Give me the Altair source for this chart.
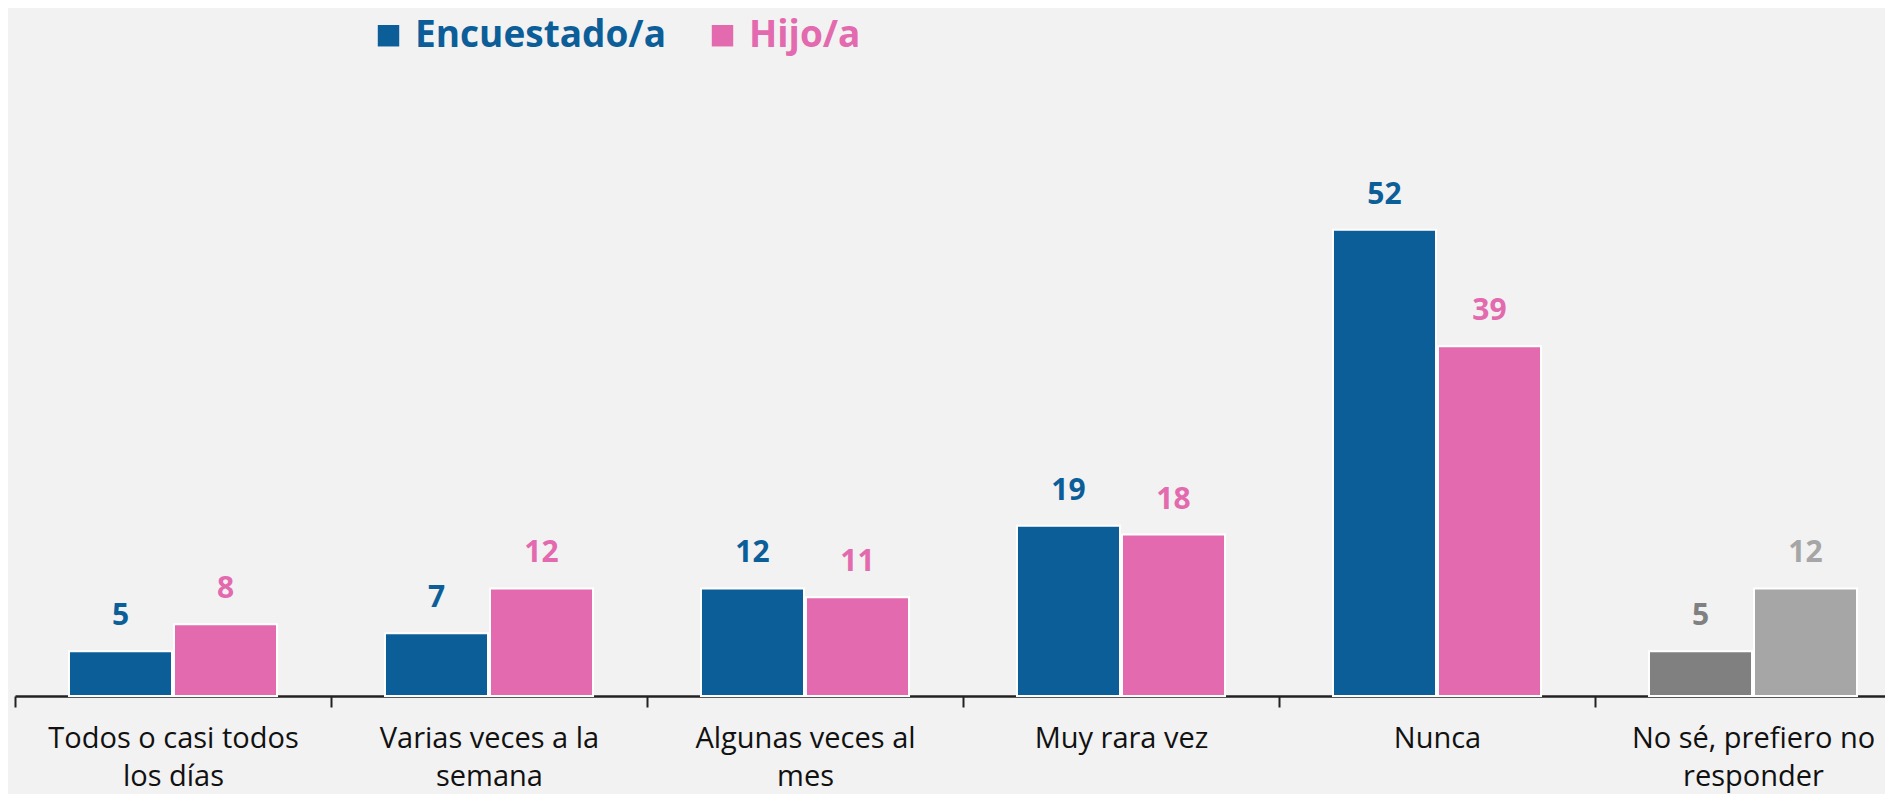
import altair as alt
import pandas as pd

categories = [
    "Todos o casi todos los días",
    "Varias veces a la semana",
    "Algunas veces al mes",
    "Muy rara vez",
    "Nunca",
    "No sé, prefiero no responder",
]
label_lines = [
    ["Todos o casi todos", "los días"],
    ["Varias veces a la", "semana"],
    ["Algunas veces al", "mes"],
    ["Muy rara vez"],
    ["Nunca"],
    ["No sé, prefiero no", "responder"],
]
series = ["Encuestado/a", "Hijo/a"]
encuestado = [5, 7, 12, 19, 52, 5]
hijo = [8, 12, 11, 18, 39, 12]

BLUE = "#0c5e99"
PINK = "#e36aae"
GREY_D = "#808080"
GREY_L = "#a6a6a6"
NS = "No sé, prefiero no responder"

rows = []
for c, e, h in zip(categories, encuestado, hijo):
    for s, v in ((series[0], e), (series[1], h)):
        key = s + " NS" if c == NS else s
        rows.append({"cat": c, "serie": s, "valor": v, "key": key})
df = pd.DataFrame(rows)

key_domain = ["Encuestado/a", "Hijo/a", "Encuestado/a NS", "Hijo/a NS"]
key_range = [BLUE, PINK, GREY_D, GREY_L]

def arr(lines):
    return "[" + ",".join("'" + l + "'" for l in lines) + "]"

label_expr = ""
for c, ls in zip(categories, label_lines):
    label_expr += f"datum.label == '{c}' ? {arr(ls)} : "
label_expr += "datum.label"

x = alt.X(
    "cat:N",
    sort=categories,
    scale=alt.Scale(range=[0, 1896], paddingInner=0, paddingOuter=0),
    axis=alt.Axis(
        title=None,
        labelAngle=0,
        labelExpr=label_expr,
        labelFont="Open Sans",
        labelFontSize=29,
        labelColor="#111111",
        labelBaseline="alphabetic",
        labelPadding=40,
        labelLineHeight=38,
        labelLimit=400,
        domainColor="#222222",
        domainWidth=2.5,
        tickColor="#222222",
        tickWidth=2,
        tickSize=11,
        tickBand="extent",
        grid=False,
    ),
)
xo = alt.XOffset(
    "serie:N",
    sort=series,
    scale=alt.Scale(paddingInner=0.019, paddingOuter=0.514),
)
y = alt.Y("valor:Q", scale=alt.Scale(domain=[0, 60]), axis=None)

bars = alt.Chart(df).mark_bar(stroke="white", strokeWidth=2).encode(
    x=x,
    xOffset=xo,
    y=y,
    color=alt.Color(
        "key:N",
        scale=alt.Scale(domain=key_domain, range=key_range),
        legend=alt.Legend(
            values=series,
            title=None,
            orient="none",
            legendX=355,
            legendY=-141,
            direction="horizontal",
            symbolType="square",
            symbolSize=460,
            symbolStrokeWidth=0,
            symbolOpacity=1,
            labelFont="Open Sans",
            labelFontSize=37,
            labelFontWeight="bold",
            labelOffset=8,
            columnPadding=38,
            labelColor={"expr": f"datum.value == 'Hijo/a' ? '{PINK}' : '{BLUE}'"},
            labelLimit=600,
        ),
    ),
)

labels = alt.Chart(df).mark_text(
    font="Open Sans",
    fontSize=30,
    fontWeight="bold",
    baseline="alphabetic",
    dy=-26,
).encode(
    x=x,
    xOffset=xo,
    y=y,
    text=alt.Text("valor:Q"),
    color=alt.Color("key:N", scale=alt.Scale(domain=key_domain, range=key_range), legend=None),
)

chart = (
    alt.layer(bars, labels)
    .properties(
        width=1870,
        height=538,
        autosize=alt.AutoSizeParams(type="none"),
        padding={"left": 7, "top": 150, "right": 0, "bottom": 98},
        background="#f2f2f2",
    )
    .configure_view(stroke=None)
)

chart.save("out.html", embed_options={"renderer": "svg", "actions": False})
